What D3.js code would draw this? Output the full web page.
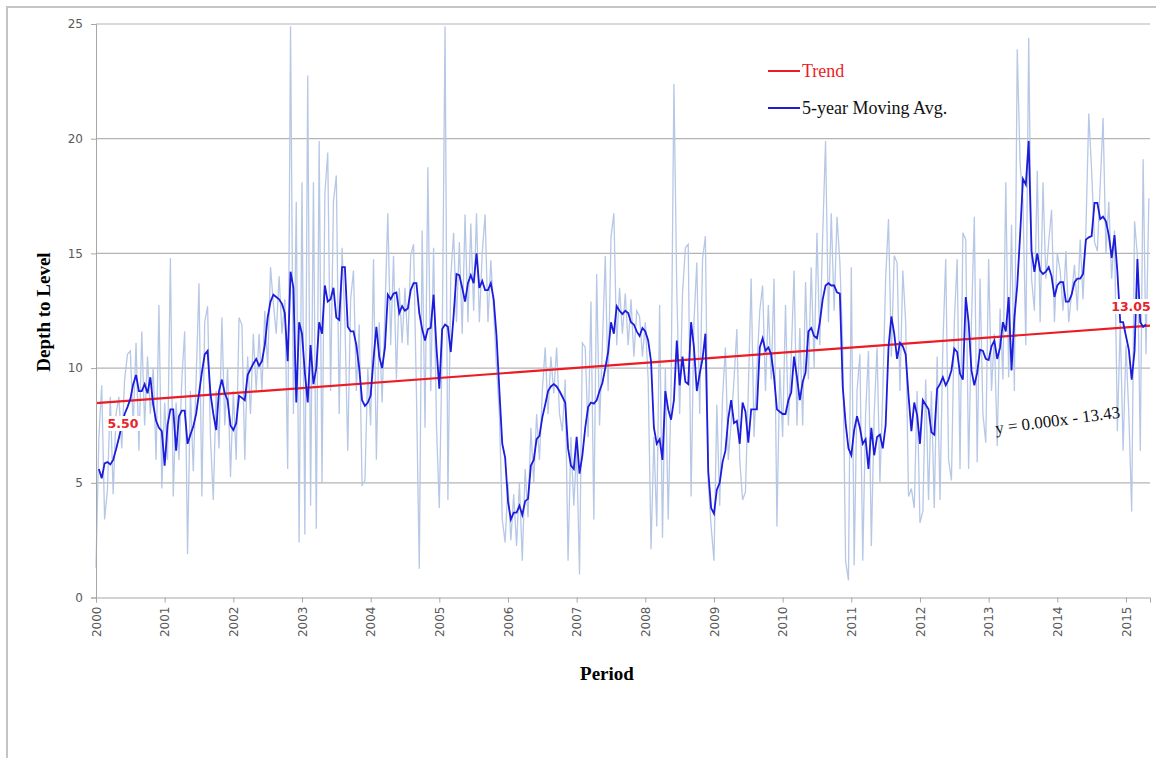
<!DOCTYPE html>
<html>
<head>
<meta charset="utf-8">
<script src="https://d3js.org/d3.v7.min.js"></script>
<style>
  body { margin: 0; background: #fff; }
  .axis text { font-family: "DejaVu Sans", Verdana, sans-serif; font-size: 12px; fill: #595959; }
  .axis path, .axis line { stroke: #a6a6a6; }
  .grid line { stroke: #b4b4b4; stroke-width: 1.2; }
  .serif { font-family: "Liberation Serif", "Times New Roman", serif; }
  .val { font-family: "DejaVu Sans", sans-serif; font-size: 12.5px; font-weight: bold; fill: #e8242c; }
</style>
</head>
<body>
<svg width="1156" height="758"></svg>
<script>
// readings are on a half-month grid starting Jan 2000
var startYear = 2000,
    step = 1 / 24;

var rawDepth = [
  1.3, 7.0, 9.25, 3.4, 4.7, 8.75, 4.5, 8.0, 8.75, 6.5,
  9.5, 10.6, 10.75, 7.5, 11.1, 6.4, 11.6, 7.5, 10.5, 8.0,
  10.0, 6.0, 12.75, 4.75, 8.5, 6.0, 14.8, 4.4, 8.5, 6.0,
  9.5, 11.6, 1.9, 9.0, 5.5, 9.5, 13.7, 4.4, 12.0, 12.7,
  7.0, 4.25, 9.0, 6.5, 12.2, 7.5, 10.0, 5.25, 9.0, 6.0,
  12.2, 11.9, 6.0, 10.5, 8.0, 11.5, 9.0, 11.5, 9.0, 12.5,
  10.0, 14.4, 12.8, 11.5, 14.0, 11.5, 13.0, 5.6, 24.9, 8.0,
  17.25, 2.4, 18.1, 2.75, 22.75, 4.0, 18.1, 3.0, 19.9, 5.0,
  17.6, 19.4, 9.0, 17.25, 18.4, 8.0, 15.25, 12.0, 6.4, 13.0,
  14.25, 9.0, 11.9, 4.9, 5.1, 10.0, 7.5, 14.75, 6.0, 12.0,
  8.5, 12.5, 16.75, 11.0, 14.9, 9.5, 13.5, 11.1, 13.5, 11.0,
  14.9, 15.4, 8.9, 1.25, 16.0, 7.4, 18.75, 9.0, 15.25, 7.5,
  3.9, 11.0, 24.9, 4.25, 14.0, 15.9, 12.0, 15.5, 11.5, 16.7,
  12.0, 16.3, 12.5, 16.75, 12.0, 15.0, 16.7, 12.0, 14.7, 12.5,
  10.0, 8.0, 3.4, 2.4, 5.0, 2.5, 4.5, 2.25, 5.0, 1.6,
  5.6, 3.5, 7.4, 5.0, 8.0, 6.0, 9.0, 10.9, 8.0, 10.5,
  8.9, 10.9, 8.0, 7.25, 9.5, 1.6, 7.0, 4.0, 6.5, 1.0,
  11.1, 10.9, 7.0, 12.9, 3.4, 14.1, 7.5, 11.0, 14.9, 9.0,
  15.7, 16.75, 11.0, 13.5, 11.5, 13.25, 11.0, 13.0, 10.5, 12.5,
  12.25, 10.5, 12.0, 9.5, 2.1, 7.0, 3.1, 12.75, 2.6, 10.0,
  3.4, 9.0, 22.4, 13.4, 8.0, 13.25, 15.25, 15.4, 4.4, 12.0,
  14.6, 8.0, 14.75, 15.75, 5.0, 3.1, 1.6, 8.4, 4.0, 8.75,
  10.9, 6.0, 7.6, 9.5, 11.7, 6.0, 4.25, 4.6, 9.0, 13.9,
  7.0, 10.0, 12.5, 13.6, 9.0, 12.75, 9.5, 13.9, 3.1, 10.0,
  7.0, 12.75, 7.5, 10.5, 14.25, 7.5, 11.75, 7.5, 13.75, 9.5,
  14.4, 10.0, 15.9, 11.0, 15.8, 19.9, 12.0, 16.75, 12.5, 16.6,
  14.6, 11.0, 1.6, 0.75, 14.4, 1.4, 9.0, 10.6, 1.6, 8.0,
  10.75, 2.25, 8.0, 10.9, 5.0, 8.9, 13.9, 16.5, 10.5, 14.9,
  14.6, 9.0, 14.25, 12.0, 4.4, 4.75, 3.9, 9.0, 3.25, 3.75,
  9.5, 4.25, 9.0, 3.9, 10.5, 4.25, 11.0, 14.75, 6.0, 5.1,
  12.0, 14.75, 5.6, 15.9, 15.6, 5.6, 12.0, 16.6, 5.9, 13.9,
  8.0, 6.75, 14.75, 9.0, 11.5, 6.6, 12.6, 9.5, 18.1, 9.6,
  16.25, 9.0, 23.9, 18.9, 17.25, 11.0, 24.4, 13.9, 12.5, 18.6,
  12.0, 18.1, 13.9, 15.5, 16.9, 12.0, 15.0, 14.25, 12.5, 15.1,
  12.0, 13.25, 14.5, 12.5, 15.6, 13.0, 16.0, 21.1, 18.6, 15.5,
  15.1, 18.0, 20.9, 15.0, 17.25, 13.9, 16.0, 7.25, 12.0, 6.4,
  11.0, 8.0, 3.75, 16.4, 14.9, 6.4, 19.1, 10.6, 17.4
];

var movingAvg = [
  null, 5.6, 5.2, 5.85, 5.9, 5.8, 6.0, 6.45, 6.95, 7.5,
  8.0, 8.3, 8.65, 9.3, 9.7, 9.0, 9.0, 9.3, 8.9, 9.6,
  8.4, 7.7, 7.4, 7.25, 5.75, 7.5, 8.2, 8.2, 6.4, 7.9,
  8.15, 8.15, 6.7, 7.1, 7.45, 8.0, 8.9, 9.8, 10.6, 10.75,
  8.9, 8.0, 7.3, 9.0, 9.5, 8.9, 8.6, 7.5, 7.3, 7.6,
  8.8, 8.7, 8.6, 9.7, 9.95, 10.2, 10.4, 10.1, 10.3, 11.0,
  12.2, 12.9, 13.2, 13.1, 13.0, 12.8, 12.4, 10.3, 14.2, 13.5,
  8.5, 12.0, 11.5, 9.8, 8.5, 11.0, 9.3, 10.0, 12.0, 11.5,
  13.6, 12.9, 13.0, 13.5, 12.2, 12.1, 14.4, 14.4, 11.8, 11.6,
  11.6, 11.0, 10.0, 8.6, 8.35, 8.5, 8.8, 10.4, 11.8, 10.5,
  10.0, 10.9, 13.2, 13.0, 13.25, 13.3, 12.4, 12.7, 12.5, 12.6,
  13.4, 13.7, 13.7, 12.4, 11.7, 11.2, 11.7, 11.75, 13.2, 10.9,
  9.1, 11.7, 11.9, 11.8, 10.7, 12.3, 14.1, 14.05, 13.5, 12.9,
  13.7, 14.05, 13.7, 15.0, 13.5, 13.8, 13.4, 13.4, 13.7, 13.0,
  11.4, 9.0, 6.7, 6.1, 4.2, 3.4, 3.7, 3.7, 4.0, 3.6,
  4.2, 4.3, 5.75, 6.0, 6.9, 7.05, 7.85, 8.4, 9.0, 9.2,
  9.3, 9.2, 9.0, 8.75, 8.5, 6.5, 5.75, 5.6, 7.0, 5.4,
  6.2, 7.4, 8.3, 8.5, 8.45, 8.6, 9.0, 9.35, 10.0, 10.7,
  12.0, 11.5, 12.7, 12.5, 12.35, 12.5, 12.4, 12.0, 11.9, 11.6,
  11.4, 11.75, 11.6, 11.2, 10.3, 7.4, 6.7, 6.9, 6.0, 9.0,
  8.2, 7.75, 8.6, 11.2, 9.25, 10.5, 9.4, 9.3, 12.0, 10.9,
  9.0, 9.75, 10.4, 11.5, 5.5, 3.9, 3.65, 4.7, 5.0, 5.9,
  6.4, 7.8, 8.6, 7.6, 7.7, 6.7, 8.5, 8.1, 6.75, 8.2,
  8.2, 8.2, 10.9, 11.3, 10.75, 10.9, 10.6, 9.6, 8.2, 8.1,
  8.0, 8.0, 8.6, 8.95, 10.5, 9.6, 8.6, 9.4, 9.8, 11.6,
  11.75, 11.4, 11.3, 12.0, 13.0, 13.6, 13.7, 13.6, 13.6, 13.3,
  13.25, 9.2, 7.6, 6.5, 6.2, 7.3, 7.9, 7.4, 6.7, 6.9,
  5.6, 7.4, 6.2, 7.0, 7.1, 6.5, 7.5, 10.9, 12.25, 11.5,
  10.4, 11.1, 10.95, 10.6, 8.8, 7.25, 8.5, 7.95, 6.7, 8.6,
  8.4, 8.2, 7.2, 7.1, 9.1, 9.3, 9.6, 9.25, 9.5, 9.9,
  10.85, 10.7, 9.75, 9.5, 13.1, 12.0, 9.9, 9.25, 9.8, 10.8,
  10.75, 10.4, 10.35, 10.95, 11.2, 10.4, 10.9, 12.0, 11.6, 13.1,
  9.9, 12.2, 13.6, 15.8, 18.25, 18.0, 19.9, 15.1, 14.2, 15.0,
  14.25, 14.1, 14.2, 14.4, 14.0, 13.1, 13.6, 13.75, 13.75, 12.9,
  12.9, 13.2, 13.75, 13.9, 13.9, 14.1, 15.6, 15.7, 15.75, 17.2,
  17.2, 16.5, 16.6, 16.4, 15.8, 14.8, 15.8, 14.2, 12.0, 12.0,
  11.4, 10.8, 9.5, 10.75, 14.75, 12.0, 11.8, 11.9
];

var yearTicks = [2000, 2001, 2002, 2003, 2004, 2005, 2006, 2007,
                 2008, 2009, 2010, 2011, 2012, 2013, 2014, 2015];
var depthTicks = [0, 5, 10, 15, 20, 25];
var gridTicks = [5, 10, 15, 20, 25];

// trend line end points and its labels
var trendEnds = [[2000, 8.47], [2015.35, 11.85]];
var trendLabels = ["5.50", "13.05"];
var equation = "y = 0.000x - 13.43";
var legendNames = ["Trend", "5-year Moving Avg."];

var svg = d3.select("svg");

svg.append("rect")
   .attr("width", 1156).attr("height", 758)
   .attr("fill", "#fff");

// outer frame of the chart object
svg.append("rect")
   .attr("x", 7).attr("y", 7)
   .attr("width", 1170).attr("height", 770)
   .attr("fill", "none")
   .attr("stroke", "#c4c4c4")
   .attr("stroke-width", 2);

var x = d3.scaleLinear().domain([2000, 2015.35]).range([96, 1150]),
    y = d3.scaleLinear().domain([0, 25]).range([597.5, 24]);

svg.append("g")
   .attr("class", "grid")
   .selectAll("line")
   .data(gridTicks)
   .enter().append("line")
   .attr("x1", x(2000)).attr("x2", x(2015.35))
   .attr("y1", function(d) { return y(d); })
   .attr("y2", function(d) { return y(d); });

var line = d3.line()
    .defined(function(d) { return d != null; })
    .x(function(d, i) { return x(startYear + i * step); })
    .y(function(d) { return y(d); });

svg.append("path")
   .datum(rawDepth)
   .attr("d", line)
   .attr("fill", "none")
   .attr("stroke", "#b7c7e6")
   .attr("stroke-width", 1.3);

svg.append("path")
   .datum(trendEnds)
   .attr("d", d3.line().x(function(d) { return x(d[0]); }).y(function(d) { return y(d[1]); }))
   .attr("stroke", "#ec1c24")
   .attr("stroke-width", 2.2);

svg.append("path")
   .datum(movingAvg)
   .attr("d", line)
   .attr("fill", "none")
   .attr("stroke", "#1c1cdc")
   .attr("stroke-width", 1.8);

// axes
var yAxis = svg.append("g")
   .attr("class", "axis")
   .attr("transform", "translate(" + x(2000) + ",0)")
   .call(d3.axisLeft(y).tickValues(depthTicks).tickSize(5).tickPadding(8));

var xAxis = svg.append("g")
   .attr("class", "axis")
   .attr("transform", "translate(0," + y(0) + ")")
   .call(d3.axisBottom(x).tickValues(yearTicks).tickSize(5).tickFormat(function(d) { return d; }));

xAxis.selectAll("text")
   .attr("transform", "rotate(-90)")
   .attr("text-anchor", "end")
   .attr("x", -9)
   .attr("y", 0)
   .attr("dy", "0.35em");

// value labels on the trend, with a white box behind
function valueLabel(txt, cx, by) {
    var t = svg.append("text")
       .attr("class", "val")
       .attr("x", cx).attr("y", by)
       .attr("text-anchor", "middle")
       .text(txt);
    var b = t.node().getBBox();
    svg.insert("rect", function() { return t.node(); })
       .attr("x", b.x - 2).attr("y", b.y)
       .attr("width", b.width + 4).attr("height", b.height)
       .attr("fill", "#fff");
}
valueLabel(trendLabels[0], 123, 428);
valueLabel(trendLabels[1], 1131, 311);

svg.append("text")
   .attr("class", "serif")
   .attr("transform", "translate(996,434) rotate(-7.5)")
   .attr("font-size", "17px")
   .attr("fill", "#111")
   .text(equation);

// legend
var legendColors = ["#ec1c24", "#1c1cdc"],
    legendText = ["#ec1c24", "#111"];
var lg = svg.append("g").attr("transform", "translate(768,71)");
legendNames.forEach(function(n, i) {
    lg.append("line")
      .attr("x1", 0).attr("x2", 32)
      .attr("y1", i * 37).attr("y2", i * 37)
      .attr("stroke", legendColors[i])
      .attr("stroke-width", 2);
    lg.append("text")
      .attr("class", "serif")
      .attr("x", 34).attr("y", i * 37 + 6)
      .attr("font-size", "18px")
      .attr("fill", legendText[i])
      .text(n);
});

// axis titles
svg.append("text")
   .attr("class", "serif")
   .attr("x", 607).attr("y", 680)
   .attr("text-anchor", "middle")
   .attr("font-size", "19px")
   .attr("font-weight", "bold")
   .text("Period");

svg.append("text")
   .attr("class", "serif")
   .attr("transform", "translate(50,312) rotate(-90)")
   .attr("text-anchor", "middle")
   .attr("font-size", "19px")
   .attr("font-weight", "bold")
   .text("Depth to Level");
</script>
</body>
</html>
